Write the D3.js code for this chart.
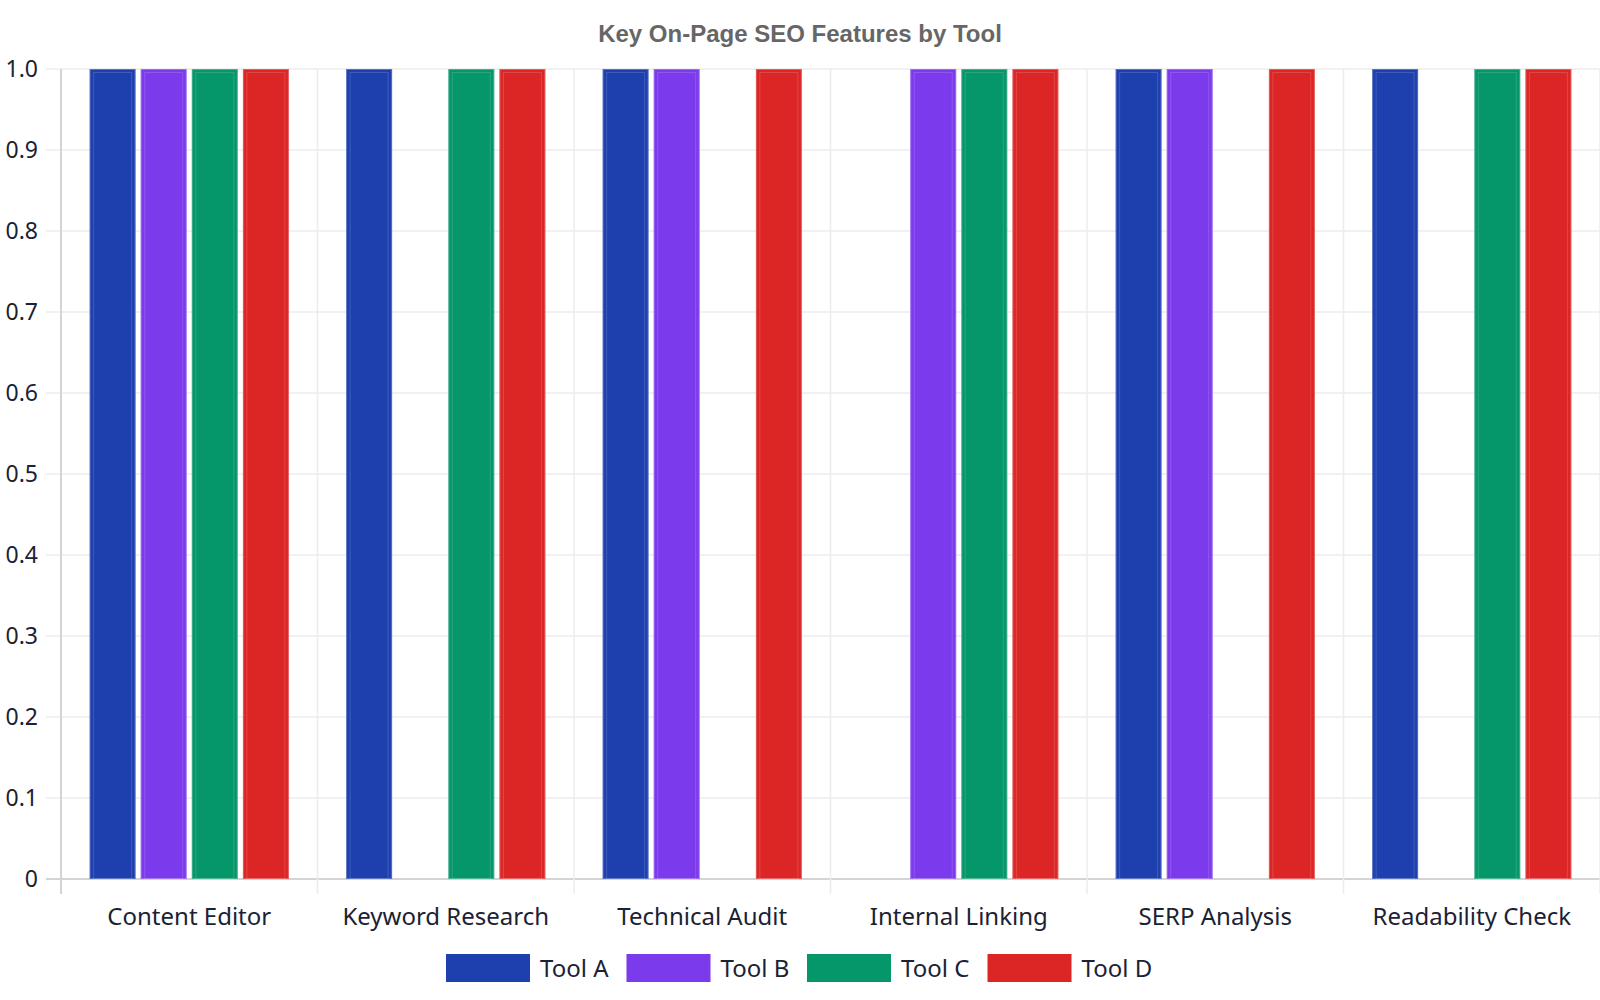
<!DOCTYPE html>
<html>
<head>
<meta charset="utf-8">
<script src="https://cdn.jsdelivr.net/npm/d3@7"></script>
<style>
  html, body { margin: 0; padding: 0; background: #fff; }
  svg { display: block; }
</style>
</head>
<body>
<div id="chart"></div>
<script>
const categories = ["Content Editor", "Keyword Research", "Technical Audit", "Internal Linking", "SERP Analysis", "Readability Check"];
const tools = ["Tool A", "Tool B", "Tool C", "Tool D"];
const toolColors = ["#1e40af", "#7c3aed", "#059669", "#dc2626"];
const toolA = [1, 1, 1, 0, 1, 1];
const toolB = [1, 0, 1, 1, 1, 0];
const toolC = [1, 1, 0, 1, 0, 1];
const toolD = [1, 1, 1, 1, 1, 1];
const yTicks = [0, 0.1, 0.2, 0.3, 0.4, 0.5, 0.6, 0.7, 0.8, 0.9, 1.0];
const yTickLabels = ["0", "0.1", "0.2", "0.3", "0.4", "0.5", "0.6", "0.7", "0.8", "0.9", "1.0"];

const width = 1600, height = 1000;
const margin = { top: 69, right: 0, bottom: 121, left: 61 };
const chartWidth = width - margin.left - margin.right;
const chartHeight = height - margin.top - margin.bottom;

const series = [toolA, toolB, toolC, toolD];
const rows = [];
categories.forEach((c, i) => {
  tools.forEach((t, j) => rows.push({ category: c, tool: t, value: series[j][i], color: toolColors[j] }));
});

const svg = d3.select("#chart").append("svg")
  .attr("width", width)
  .attr("height", height);

// title
svg.append("text")
  .attr("x", 800)
  .attr("y", 42)
  .attr("text-anchor", "middle")
  .attr("font-family", "'Liberation Sans', Arial, sans-serif")
  .attr("font-weight", "bold")
  .attr("font-size", 24)
  .attr("fill", "#666")
  .text("Key On-Page SEO Features by Tool");

const g = svg.append("g")
  .attr("transform", `translate(${margin.left},${margin.top})`);

const x0 = d3.scaleBand()
  .domain(categories)
  .range([0, chartWidth])
  .padding(0);

const x1 = d3.scaleBand()
  .domain(tools)
  .range([0, x0.bandwidth()])
  .paddingInner(0.1)
  .paddingOuter(0.56);

const y = d3.scaleLinear()
  .domain([0, 1])
  .range([chartHeight, 0]);

// horizontal gridlines
g.append("g")
  .selectAll("line")
  .data(yTicks)
  .enter().append("line")
  .attr("x1", -15)
  .attr("x2", chartWidth)
  .attr("y1", d => y(d))
  .attr("y2", d => y(d))
  .attr("stroke", d => d === 0 ? "#d4d4d4" : "#ececec")
  .attr("stroke-width", d => d === 0 ? 2 : 1.5);

// vertical gridlines at band edges
const edges = categories.map(c => x0(c)).concat([chartWidth]);
g.append("g")
  .selectAll("line")
  .data(edges)
  .enter().append("line")
  .attr("x1", d => d)
  .attr("x2", d => d)
  .attr("y1", 0)
  .attr("y2", chartHeight + 15)
  .attr("stroke", (d, i) => i === 0 ? "#d4d4d4" : "#ececec")
  .attr("stroke-width", (d, i) => i === 0 ? 2 : 1.5);

// y axis labels
const yAxis = g.append("g")
  .call(d3.axisLeft(y).tickValues(yTicks).tickFormat((d, i) => yTickLabels[i]).tickSize(0).tickPadding(23));
yAxis.select(".domain").remove();
yAxis.selectAll("text")
  .attr("font-family", "'Noto Sans', sans-serif")
  .attr("font-size", 23)
  .attr("fill", "#1a2233");

// x axis labels
const xAxis = g.append("g")
  .attr("transform", `translate(0,${chartHeight})`)
  .call(d3.axisBottom(x0).tickSize(0).tickPadding(29));
xAxis.select(".domain").remove();
xAxis.selectAll("text")
  .attr("font-family", "'Noto Sans', sans-serif")
  .attr("font-size", 24)
  .attr("fill", "#1a2233");

// bars
const bars = g.append("g")
  .selectAll("g")
  .data(rows.filter(d => d.value > 0))
  .enter().append("g")
  .attr("transform", d => `translate(${x0(d.category) + x1(d.tool)},0)`);

bars.append("rect")
  .attr("x", 0)
  .attr("y", d => y(d.value))
  .attr("width", x1.bandwidth())
  .attr("height", d => y(0) - y(d.value))
  .attr("fill", d => d.color);

bars.append("rect")
  .attr("x", 0.5)
  .attr("y", d => y(d.value) + 0.5)
  .attr("width", x1.bandwidth() - 1)
  .attr("height", d => y(0) - y(d.value) - 1)
  .attr("fill", "none")
  .attr("stroke", "rgba(255,255,255,0.25)")
  .attr("stroke-width", 1);

bars.append("rect")
  .attr("x", 4)
  .attr("y", d => y(d.value) + 3.5)
  .attr("width", x1.bandwidth() - 8)
  .attr("height", d => y(0) - y(d.value) - 3.5)
  .attr("fill", "none")
  .attr("stroke", "rgba(255,255,255,0.15)")
  .attr("stroke-width", 1);

// legend
const legend = svg.append("g")
  .attr("transform", "translate(446,954)");

const items = legend.selectAll("g")
  .data(tools)
  .enter().append("g")
  .attr("transform", (d, i) => `translate(${i * 180.5},0)`);

items.append("rect")
  .attr("width", 84)
  .attr("height", 28)
  .attr("fill", (d, i) => toolColors[i]);

items.append("text")
  .attr("x", 94)
  .attr("y", 23)
  .attr("font-family", "'Noto Sans', sans-serif")
  .attr("font-size", 24)
  .attr("fill", "#1a2233")
  .text(d => d);
</script>
</body>
</html>
